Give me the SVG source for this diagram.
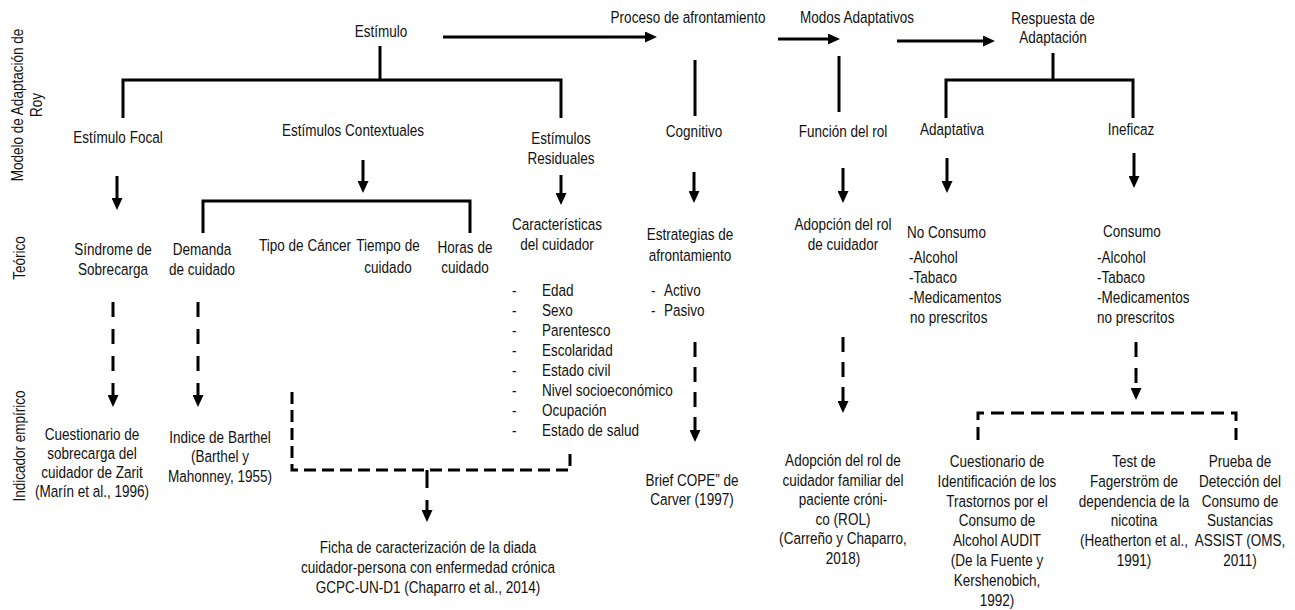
<svg xmlns="http://www.w3.org/2000/svg" width="1295" height="610" viewBox="0 0 1295 610">
<defs>
<marker id="ah" markerUnits="userSpaceOnUse" markerWidth="12" markerHeight="11" viewBox="0 0 12 11" refX="3" refY="5.5" orient="auto">
<path d="M0,0 L12,5.5 L0,11 z" fill="#000"/>
</marker>
<style>
text{font-family:'Liberation Sans',Arial,sans-serif;font-size:16.5px;fill:#111}
.c{text-anchor:middle}
.ln{fill:none;stroke:#000;stroke-width:3;stroke-linejoin:miter;stroke-linecap:butt}
.ar{fill:none;stroke:#000;stroke-width:3;marker-end:url(#ah)}
.d1{stroke-dasharray:15 12}
.d2{stroke-dasharray:15 10}
.d3{stroke-dasharray:12 6}
</style>
</defs>
<rect width="1295" height="610" fill="#fff"/>

<g id="labels">
<text class="c" transform="translate(23,105) rotate(-90) scale(.82,1)">Modelo de Adaptación de</text>
<text class="c" transform="translate(42,105) rotate(-90) scale(.82,1)">Roy</text>
<text class="c" transform="translate(25,258) rotate(-90) scale(.82,1)">Teórico</text>
<text class="c" transform="translate(25,446) rotate(-90) scale(.82,1)">Indicador empírico</text>
</g>

<g id="connectors">
<line class="ar" x1="443" y1="37" x2="648" y2="37"/>
<line class="ar" x1="778" y1="39" x2="831" y2="39"/>
<line class="ar" x1="897" y1="41" x2="986" y2="41"/>
<line class="ln" x1="380" y1="46" x2="380" y2="80"/>
<path class="ln" d="M123,118 V80 H561 V118"/>
<line class="ln" x1="695" y1="60" x2="695" y2="116"/>
<line class="ln" x1="839" y1="56" x2="839" y2="112"/>
<line class="ln" x1="1053" y1="53" x2="1053" y2="80"/>
<path class="ln" d="M946,118 V80 H1133 V118"/>
<line class="ar" x1="117" y1="176" x2="117" y2="201"/>
<line class="ar" x1="363" y1="160" x2="363" y2="184"/>
<line class="ar" x1="561" y1="175" x2="561" y2="196"/>
<line class="ar" x1="694" y1="172" x2="694" y2="194"/>
<line class="ar" x1="843" y1="168" x2="843" y2="194"/>
<line class="ar" x1="947" y1="158" x2="947" y2="184"/>
<line class="ar" x1="1134" y1="153" x2="1134" y2="179"/>
<path class="ln" d="M203,233 V201 H470 V233"/>
<line class="ar d1" x1="113" y1="302" x2="113" y2="398"/>
<line class="ar d1" x1="198" y1="302" x2="198" y2="398"/>
<line class="ar d2" x1="695" y1="342" x2="695" y2="433"/>
<line class="ar d2" x1="843" y1="337" x2="843" y2="404"/>
<line class="ar" style="stroke-dasharray:15 11" x1="1136" y1="342" x2="1136" y2="391"/>
<path class="ln d3" d="M292,392 V470 H570 V448"/>
<line class="ar" style="stroke-dasharray:18 12" x1="427" y1="470" x2="427" y2="513"/>
<path class="ln" style="stroke-dasharray:13 7" d="M978,440 V413 H1236 V440"/>
</g>

<g id="n-estimulo"><text class="c" transform="translate(381,37) scale(.82,1)">Estímulo</text></g>
<g id="n-proceso"><text class="c" transform="translate(688,23) scale(.82,1)">Proceso de afrontamiento</text></g>
<g id="n-modos"><text class="c" transform="translate(857,23) scale(.82,1)">Modos Adaptativos</text></g>
<g id="n-respuesta"><text class="c" transform="translate(1053,24) scale(.82,1)">Respuesta de</text><text class="c" transform="translate(1053,43) scale(.82,1)">Adaptación</text></g>

<g id="n-focal"><text class="c" transform="translate(118,143) scale(.82,1)">Estímulo Focal</text></g>
<g id="n-contextuales"><text class="c" transform="translate(353,136) scale(.82,1)">Estímulos Contextuales</text></g>
<g id="n-residuales"><text class="c" transform="translate(561,144) scale(.82,1)">Estímulos</text><text class="c" transform="translate(561,164) scale(.82,1)">Residuales</text></g>
<g id="n-cognitivo"><text class="c" transform="translate(694,137) scale(.82,1)">Cognitivo</text></g>
<g id="n-funcion"><text class="c" transform="translate(843,137) scale(.82,1)">Función del rol</text></g>
<g id="n-adaptativa"><text class="c" transform="translate(952,135) scale(.82,1)">Adaptativa</text></g>
<g id="n-ineficaz"><text class="c" transform="translate(1131,135) scale(.82,1)">Ineficaz</text></g>

<g id="n-sindrome"><text class="c" transform="translate(113,255) scale(.82,1)">Síndrome de</text><text class="c" transform="translate(113,275) scale(.82,1)">Sobrecarga</text></g>
<g id="n-demanda"><text class="c" transform="translate(202,255) scale(.82,1)">Demanda</text><text class="c" transform="translate(202,275) scale(.82,1)">de cuidado</text></g>
<g id="n-tipo"><text class="c" transform="translate(305,251) scale(.82,1)">Tipo de Cáncer</text></g>
<g id="n-tiempo"><text class="c" transform="translate(388,251) scale(.82,1)">Tiempo de</text><text class="c" transform="translate(388,273) scale(.82,1)">cuidado</text></g>
<g id="n-horas"><text class="c" transform="translate(465,253) scale(.82,1)">Horas de</text><text class="c" transform="translate(465,273) scale(.82,1)">cuidado</text></g>
<g id="n-caracteristicas">
<text class="c" transform="translate(557,230) scale(.82,1)">Características</text><text class="c" transform="translate(557,250) scale(.82,1)">del cuidador</text>
<text transform="translate(512,296) scale(.82,1)">-</text><text transform="translate(542,296) scale(.82,1)">Edad</text>
<text transform="translate(512,316) scale(.82,1)">-</text><text transform="translate(542,316) scale(.82,1)">Sexo</text>
<text transform="translate(512,336) scale(.82,1)">-</text><text transform="translate(542,336) scale(.82,1)">Parentesco</text>
<text transform="translate(512,356) scale(.82,1)">-</text><text transform="translate(542,356) scale(.82,1)">Escolaridad</text>
<text transform="translate(512,376) scale(.82,1)">-</text><text transform="translate(542,376) scale(.82,1)">Estado civil</text>
<text transform="translate(512,396) scale(.82,1)">-</text><text transform="translate(542,396) scale(.82,1)">Nivel socioeconómico</text>
<text transform="translate(512,416) scale(.82,1)">-</text><text transform="translate(542,416) scale(.82,1)">Ocupación</text>
<text transform="translate(512,436) scale(.82,1)">-</text><text transform="translate(542,436) scale(.82,1)">Estado de salud</text>
</g>
<g id="n-estrategias">
<text class="c" transform="translate(690,240) scale(.82,1)">Estrategias de</text><text class="c" transform="translate(690,261) scale(.82,1)">afrontamiento</text>
<text transform="translate(651,296) scale(.82,1)">-</text><text transform="translate(664,296) scale(.82,1)">Activo</text>
<text transform="translate(651,316) scale(.82,1)">-</text><text transform="translate(664,316) scale(.82,1)">Pasivo</text>
</g>
<g id="n-adopcion"><text class="c" transform="translate(843,230) scale(.82,1)">Adopción del rol</text><text class="c" transform="translate(843,250) scale(.82,1)">de cuidador</text></g>
<g id="n-noconsumo">
<text transform="translate(907,238) scale(.82,1)">No Consumo</text>
<text transform="translate(909,263) scale(.82,1)">-Alcohol</text><text transform="translate(909,283) scale(.82,1)">-Tabaco</text><text transform="translate(909,303) scale(.82,1)">-Medicamentos</text><text transform="translate(910,323) scale(.82,1)">no prescritos</text>
</g>
<g id="n-consumo">
<text transform="translate(1103,237) scale(.82,1)">Consumo</text>
<text transform="translate(1097,263) scale(.82,1)">-Alcohol</text><text transform="translate(1097,283) scale(.82,1)">-Tabaco</text><text transform="translate(1097,303) scale(.82,1)">-Medicamentos</text><text transform="translate(1097,323) scale(.82,1)">no prescritos</text>
</g>

<g id="n-zarit"><text class="c" transform="translate(92,440) scale(.82,1)">Cuestionario de</text><text class="c" transform="translate(92,459) scale(.82,1)">sobrecarga del</text><text class="c" transform="translate(92,478) scale(.82,1)">cuidador de Zarit</text><text class="c" transform="translate(92,497) scale(.82,1)">(Marín et al., 1996)</text></g>
<g id="n-barthel"><text class="c" transform="translate(220,443) scale(.82,1)">Indice de Barthel</text><text class="c" transform="translate(220,462) scale(.82,1)">(Barthel y</text><text class="c" transform="translate(220,482) scale(.82,1)">Mahonney, 1955)</text></g>
<g id="n-ficha"><text class="c" transform="translate(428,553) scale(.82,1)">Ficha de caracterización de la diada</text><text class="c" transform="translate(428,573) scale(.82,1)">cuidador-persona con enfermedad crónica</text><text class="c" transform="translate(428,593) scale(.82,1)">GCPC-UN-D1 (Chaparro et al.,  2014)</text></g>
<g id="n-brief"><text class="c" transform="translate(692,486) scale(.82,1)">Brief COPE” de</text><text class="c" transform="translate(692,505) scale(.82,1)">Carver (1997)</text></g>
<g id="n-rol"><text class="c" transform="translate(843,466) scale(.82,1)">Adopción del rol de</text><text class="c" transform="translate(843,485.5) scale(.82,1)">cuidador familiar del</text><text class="c" transform="translate(843,505) scale(.82,1)">paciente cróni-</text><text class="c" transform="translate(843,524.5) scale(.82,1)">co (ROL)</text><text class="c" transform="translate(843,544) scale(.82,1)">(Carreño y Chaparro,</text><text class="c" transform="translate(843,563.5) scale(.82,1)">2018)</text></g>
<g id="n-audit"><text class="c" transform="translate(997,467) scale(.82,1)">Cuestionario de</text><text class="c" transform="translate(997,486.8) scale(.82,1)">Identificación de los</text><text class="c" transform="translate(997,506.6) scale(.82,1)">Trastornos por el</text><text class="c" transform="translate(997,526.4) scale(.82,1)">Consumo de</text><text class="c" transform="translate(997,546.2) scale(.82,1)">Alcohol AUDIT</text><text class="c" transform="translate(997,566) scale(.82,1)">(De la Fuente y</text><text class="c" transform="translate(997,585.8) scale(.82,1)">Kershenobich,</text><text class="c" transform="translate(997,605.6) scale(.82,1)">1992)</text></g>
<g id="n-fagerstrom"><text class="c" transform="translate(1134,467) scale(.82,1)">Test de</text><text class="c" transform="translate(1134,486.8) scale(.82,1)">Fagerström de</text><text class="c" transform="translate(1134,506.6) scale(.82,1)">dependencia de la</text><text class="c" transform="translate(1134,526.4) scale(.82,1)">nicotina</text><text class="c" transform="translate(1134,546.2) scale(.82,1)">(Heatherton et al.,</text><text class="c" transform="translate(1134,566) scale(.82,1)">1991)</text></g>
<g id="n-assist"><text class="c" transform="translate(1240,467) scale(.82,1)">Prueba de</text><text class="c" transform="translate(1240,486.8) scale(.82,1)">Detección del</text><text class="c" transform="translate(1240,506.6) scale(.82,1)">Consumo de</text><text class="c" transform="translate(1240,526.4) scale(.82,1)">Sustancias</text><text class="c" transform="translate(1240,546.2) scale(.82,1)">ASSIST (OMS,</text><text class="c" transform="translate(1240,566) scale(.82,1)">2011)</text></g>
</svg>
